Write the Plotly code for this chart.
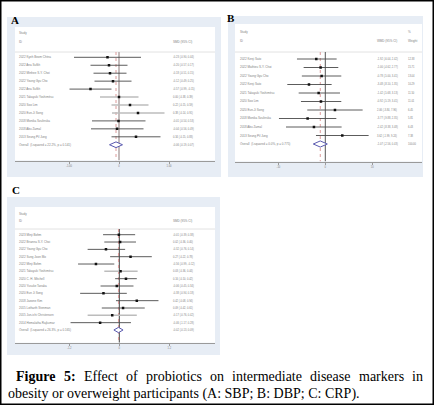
import plotly.graph_objects as go

W, H = 434, 405

# ---- panel A: SBP (SMD) ----
a_studies = ["2022 Kyeh Beom Chtna", "2022 Ana Sufkh", "2022 Minhee S-Y. Choi",
             "2022 Young Gyu Cho", "2022 Ana Sufkh", "2021 Takayuki Yoshimitsu",
             "2020 Soo Lim", "2020 Eun-Ji Song", "2018 Monika Szulinska",
             "2018 Abu Zamal", "2013 Seung Pil Jung"]
a_est = [-0.23, -0.20, -0.18, -0.12, -0.57, 0.00, 0.22, 0.38, -0.01, -0.04, 0.34]
a_lo = [-0.90, -0.57, -0.51, -0.49, -0.99, -0.38, -0.15, -0.14, -0.54, -0.56, -0.15]
a_hi = [0.44, 0.17, 0.15, 0.25, -0.15, 0.39, 0.59, 0.91, 0.53, 0.49, 0.83]
a_gray = [False, False, False, False, False, True, True, True, False, False, False]
a_overall = (-0.06, -0.19, 0.07)
a_overall_label = "Overall  (I-squared = 22.2%, p = 0.141)"
a_ticks = [-1, 0, 1]
a_ticktext = ["-1.00", "0", "1.00"]

# ---- panel B: DBP (WMD) ----
b_studies = ["2022 Kenji Sato", "2022 Mathieu S-Y. Choi", "2022 Young Gyu Cho",
             "2022 Kenji Sato", "2021 Takayuki Yoshimitsu", "2020 Soo Lim",
             "2020 Eun-Ji Song", "2018 Monika Szulinska", "2018 Abu Zamal",
             "2013 Seung Pil Jung"]
b_est = [-1.92, -1.00, -0.78, -3.48, -1.42, -0.92, 2.06, -3.77, -2.42, 3.62]
b_lo = [-6.04, -4.62, -5.00, -8.10, -5.68, -5.19, -3.84, -9.88, -8.38, -1.99]
b_hi = [2.42, 2.77, 3.41, 1.35, 3.13, 3.41, 7.96, 2.35, 3.48, 9.24]
b_weight = [12.38, 15.71, 13.04, 10.29, 11.50, 11.01, 6.45, 5.81, 6.43, 7.38]
b_gray = [False] * 10
b_overall = (-1.07, -2.56, 0.43)
b_overall_label = "Overall  (I-squared = 0.0%, p = 0.775)"
b_ticks = [-10, 0, 10]
b_ticktext = ["-10", "0", "10"]

# ---- panel C: CRP (SMD) ----
c_studies = ["2023 Minji Bohm", "2022 Brianna S-Y. Choi", "2022 Young Gyu Cho",
             "2022 Sung Joon Mo", "2022 Minji Bohm", "2021 Takayuki Yoshimitsu",
             "2020 C. H. Mitchell", "2020 Yusuke Tanaka", "2020 Eun Ji Song",
             "2018 Jaeone Kim", "2015 Lotharth Stenman", "2015 Jun-ichi Christensen",
             "2014 Hemalatha Rajkumar"]
c_est = [-0.01, 0.02, -0.32, 0.27, -0.56, 0.03, 0.16, -0.06, -0.38, 0.42, 0.09, -0.17, -0.46]
c_lo = [-0.39, -0.36, -0.76, -0.22, -0.99, -0.36, -0.10, -0.45, -0.94, -0.08, -0.42, -0.76, -1.17]
c_hi = [0.38, 0.40, 0.14, 0.78, -0.12, 0.44, 0.42, 0.34, 0.18, 0.94, 0.61, 0.42, 0.28]
c_gray = [False, False, False, False, False, True, False, False, False, False, False, True, False]
c_overall = (-0.02, -0.13, 0.09)
c_overall_label = "Overall  (I-squared = 26.3%, p = 0.165)"
c_ticks = [-1.2, 0, 1.2]
c_ticktext = ["-1.2", "0", "1.2"]

caption1_bold = ["Figure", "5:"]
caption1_words = ["Effect", "of", "probiotics", "on", "intermediate", "disease", "markers", "in"]
caption2 = "obesity or overweight participants (A: SBP; B: DBP; C: CRP)."


def fx(px):
    return px / W


def fy(py):
    return 1 - py / H


# rough Times widths (1/1000 em) to justify the first caption line
times_w = dict(a=444, b=500, c=444, d=500, e=444, f=333, g=500, h=500, i=278, k=500, m=778,
               n=500, o=500, p=500, r=333, s=389, t=278, u=500, F=556, E=611)
times_bw = dict(F=611, i=278, g=500, u=556, r=444, e=444)
times_w.update({"5": 500, ":": 333})
times_bw.update({"5": 500, ":": 333})


def word_px(word, bold, size=14):
    table = times_bw if bold else times_w
    return sum(table.get(ch, 500) for ch in word) * size / 1000.0


# pixel layout of each panel
panels = [
    dict(key="", letter="A", letter_xy=(9, 12), bg=(7, 17, 221, 177), inner=(15, 27, 215, 160.5),
         zero=119, ppu=50, y0=57.3, d=7.95, study_y=33, id_y=42, sep_y=52,
         name_x=17, est_x=171, w_x=None, est_head="SMD (95% CI)", null_color="#c4bcbc", null_w=2,
         studies=a_studies, est=a_est, lo=a_lo, hi=a_hi, gray=a_gray, weight=None,
         overall=a_overall, overall_label=a_overall_label, ticks=a_ticks, ticktext=a_ticktext),
    dict(key="2", letter="B", letter_xy=(231, 10), bg=(228, 16, 423, 177), inner=(235, 24, 422, 161.5),
         zero=325.3, ppu=4.69, y0=59, d=8.5, study_y=32, id_y=41, sep_y=52,
         name_x=238, est_x=375, w_x=406, est_head="WMD (95% CI)", null_color="#555555", null_w=1,
         studies=b_studies, est=b_est, lo=b_lo, hi=b_hi, gray=b_gray, weight=b_weight,
         overall=b_overall, overall_label=b_overall_label, ticks=b_ticks, ticktext=b_ticktext),
    dict(key="3", letter="C", letter_xy=(10, 190), bg=(7, 197, 220, 355), inner=(15, 207, 215, 342.7),
         zero=119.3, ppu=41.67, y0=234.7, d=7.33, study_y=214, id_y=220.7, sep_y=229,
         name_x=17, est_x=171, w_x=None, est_head="SMD (95% CI)", null_color="#444444", null_w=1,
         studies=c_studies, est=c_est, lo=c_lo, hi=c_hi, gray=c_gray, weight=None,
         overall=c_overall, overall_label=c_overall_label, ticks=c_ticks, ticktext=c_ticktext),
]

fig = go.Figure()
shapes = []
annotations = []
txt = dict(family="Liberation Sans", size=3, color="#808080")
num = dict(family="Liberation Sans", size=2.6, color="#808080")

for p in panels:
    xa, ya = "x" + p["key"], "y" + p["key"]
    row = lambda py, p=p: (py - p["y0"]) / p["d"]
    l, t, r, b = p["inner"]
    n = len(p["studies"])
    bottom = row(b)

    # panel background and inner plot area
    bl, bt, br, bb = p["bg"]
    shapes.append(dict(type="rect", xref="paper", yref="paper", layer="below",
                       x0=fx(bl), x1=fx(br), y0=fy(bb), y1=fy(bt),
                       fillcolor="#e7edf5", line=dict(width=0)))
    shapes.append(dict(type="rect", xref="paper", yref="paper", layer="below",
                       x0=fx(l), x1=fx(r), y0=fy(b), y1=fy(t),
                       fillcolor="white", line=dict(width=0)))
    shapes.append(dict(type="line", xref="paper", yref="paper", layer="below",
                       x0=fx(l), x1=fx(r), y0=fy(p["sep_y"]), y1=fy(p["sep_y"]),
                       line=dict(color="#e2e2e2", width=1)))

    # null line and overall dashed line
    fig.add_trace(go.Scatter(x=[0, 0], y=[row(p["sep_y"]), bottom], mode="lines",
                             line=dict(color=p["null_color"], width=p["null_w"]),
                             xaxis=xa, yaxis=ya, hoverinfo="skip"))
    fig.add_trace(go.Scatter(x=[p["overall"][0]] * 2, y=[row(p["sep_y"]), bottom], mode="lines",
                             line=dict(color="#dc9a9a", width=1, dash="dot"),
                             xaxis=xa, yaxis=ya, hoverinfo="skip"))

    # confidence intervals
    for shade, color, width in [(False, "#4a4a4a", 0.9), (True, "#bcbcbc", 1.5)]:
        xs, ys = [], []
        for i in range(n):
            if p["gray"][i] == shade:
                xs += [p["lo"][i], p["hi"][i], None]
                ys += [i, i, None]
        if xs:
            fig.add_trace(go.Scatter(x=xs, y=ys, mode="lines", line=dict(color=color, width=width),
                                     xaxis=xa, yaxis=ya, hoverinfo="skip"))

    fig.add_trace(go.Scatter(x=p["est"], y=list(range(n)), mode="markers",
                             marker=dict(symbol="square", size=2.5, color="#111111"),
                             xaxis=xa, yaxis=ya, hoverinfo="skip"))

    # overall diamond
    oe, ol, oh = p["overall"]
    fig.add_trace(go.Scatter(x=[ol, oe, oh, oe, ol], y=[n, n - 0.36, n, n + 0.36, n],
                             mode="lines", line=dict(color="#5a5ab0", width=1),
                             fill="toself", fillcolor="white",
                             xaxis=xa, yaxis=ya, hoverinfo="skip"))

    # text columns
    def label(x, y, s, font):
        annotations.append(dict(xref="paper", yref=ya, x=fx(x), y=y, text=s, showarrow=False,
                                xanchor="left", yanchor="middle", font=font))

    label(p["name_x"], row(p["study_y"]), "Study", txt)
    label(p["name_x"], row(p["id_y"]), "ID", txt)
    label(p["est_x"], row(p["id_y"]), p["est_head"], txt)
    if p["weight"]:
        label(p["w_x"], row(p["study_y"]), "%", txt)
        label(p["w_x"], row(p["id_y"]), "Weight", txt)
    for i in range(n):
        label(p["name_x"], i, p["studies"][i], txt)
        label(p["est_x"], i, "%.2f (%.2f, %.2f)" % (p["est"][i], p["lo"][i], p["hi"][i]), num)
        if p["weight"]:
            label(p["w_x"], i, "%.2f" % p["weight"][i], num)
    label(p["name_x"], n, p["overall_label"], txt)
    label(p["est_x"], n, "%.2f (%.2f, %.2f)" % p["overall"], num)
    if p["weight"]:
        label(p["w_x"], n, "100.00", num)

    # panel letter
    annotations.append(dict(xref="paper", yref="paper", x=fx(p["letter_xy"][0]), y=fy(p["letter_xy"][1]),
                            text="<b>%s</b>" % p["letter"], showarrow=False,
                            font=dict(family="Liberation Serif", size=11, color="#000000")))

    fig.update_layout({
        "xaxis" + p["key"]: dict(domain=[fx(l), fx(r)], range=[(l - p["zero"]) / p["ppu"], (r - p["zero"]) / p["ppu"]],
                                 anchor=ya, showgrid=False, zeroline=False, showline=True,
                                 linecolor="#9a9a9a", linewidth=1, ticks="outside", ticklen=2,
                                 tickcolor="#9a9a9a", tickvals=p["ticks"], ticktext=p["ticktext"],
                                 tickfont=dict(family="Liberation Sans", size=2.6, color="#808080")),
        "yaxis" + p["key"]: dict(domain=[fy(b), fy(t)], range=[bottom, row(t)], anchor=xa,
                                 visible=False),
    })

# caption, first line justified between x=15 and x=422
cap_font = dict(family="Liberation Serif", size=14, color="#000000")
words = [(w, True) for w in caption1_bold] + [(w, False) for w in caption1_words]
widths = [word_px(w, bold) for w, bold in words]
gap = (422 - 15 - sum(widths)) / (len(words) - 1)
x = 15
for (w, bold), wpx in zip(words, widths):
    annotations.append(dict(xref="paper", yref="paper", x=fx(x), y=fy(376),
                            text="<b>%s</b>" % w if bold else w, showarrow=False,
                            xanchor="left", yanchor="middle", xshift=-1, font=cap_font))
    x += wpx + gap
annotations.append(dict(xref="paper", yref="paper", x=fx(7), y=fy(394), text=caption2,
                        showarrow=False, xanchor="left", yanchor="middle", xshift=-1, font=cap_font))

# outer frame
shapes.append(dict(type="rect", xref="paper", yref="paper", x0=0, x1=1, y0=0, y1=1,
                   line=dict(color="#000000", width=3)))

fig.update_layout(width=W, height=H, margin=dict(l=0, r=0, t=0, b=0),
                  paper_bgcolor="white", plot_bgcolor="rgba(0,0,0,0)",
                  showlegend=False, shapes=shapes, annotations=annotations)

fig.write_html("out.html", config={"displayModeBar": False},
               post_script="document.body.style.margin='0px';")
